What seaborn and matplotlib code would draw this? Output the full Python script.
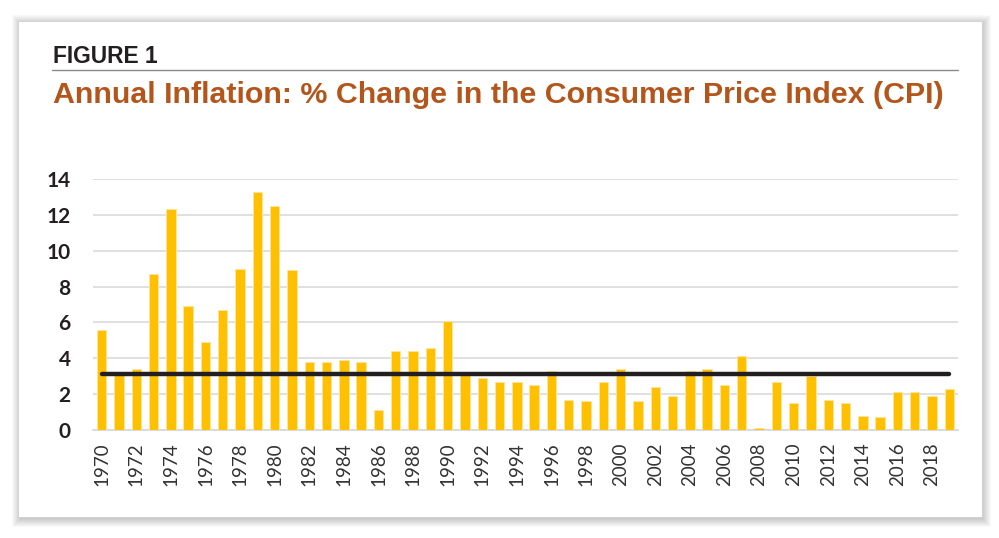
import matplotlib
matplotlib.use("Agg")
import matplotlib.pyplot as plt
import seaborn as sns
import pandas as pd
from matplotlib.patches import Rectangle

# -----------------------------
# data
# -----------------------------
years = list(range(1970, 2020))
cpi_change = [5.6, 3.2, 3.4, 8.7, 12.3, 6.9, 4.9, 6.7, 9.0, 13.3,
              12.5, 8.9, 3.8, 3.8, 3.9, 3.8, 1.1, 4.4, 4.4, 4.6,
              6.1, 3.1, 2.9, 2.7, 2.7, 2.5, 3.3, 1.7, 1.6, 2.7,
              3.4, 1.6, 2.4, 1.9, 3.3, 3.4, 2.5, 4.1, 0.1, 2.7,
              1.5, 3.0, 1.7, 1.5, 0.8, 0.7, 2.1, 2.1, 1.9, 2.3]
avg_line = 3.15
y_ticks = [0, 2, 4, 6, 8, 10, 12, 14]

df = pd.DataFrame({"Year": [str(y) for y in years], "CPI": cpi_change})

W, H = 999, 538

def fx(px):
    return px / W

def fy(py):
    return 1 - py / H

sns.set_theme(style="white")
plt.rcParams["font.family"] = ["Liberation Sans", "DejaVu Sans"]

fig = plt.figure(figsize=(W / 100, H / 100), dpi=100)
fig.patch.set_facecolor("white")

# -----------------------------
# card with soft shadow
# -----------------------------
card_l, card_t, card_r, card_b = 18, 21, 982, 517
for i in range(9, 0, -1):
    fig.patches.append(Rectangle(
        (fx(card_l - i + 3), fy(card_b + i + 1)),
        fx(card_r - card_l + 2 * i - 3), (card_b - card_t + 2 * i - 2) / H,
        transform=fig.transFigure, facecolor="black", edgecolor="none",
        alpha=0.022, zorder=0))
fig.patches.append(Rectangle(
    (fx(card_l), fy(card_b)), fx(card_r - card_l), (card_b - card_t) / H,
    transform=fig.transFigure, facecolor="white", edgecolor="#cfcfcf",
    linewidth=0.6, zorder=1))

# header texts
fig.text(fx(53), fy(63), "FIGURE 1", fontsize=16.4, fontweight="bold",
         color="#231f20", va="baseline", ha="left", zorder=3)
fig.add_artist(plt.Line2D([fx(52), fx(958)], [fy(69.5), fy(69.5)],
                          transform=fig.transFigure, color="#8a8a8a",
                          linewidth=1.0, zorder=3))
fig.text(fx(53), fy(103), "Annual Inflation: % Change in the Consumer Price Index (CPI)",
         fontsize=21.9, fontweight="bold", color="#B4561C",
         va="baseline", ha="left", zorder=3)

# -----------------------------
# bar chart
# -----------------------------
ax = fig.add_axes([fx(93), fy(430), fx(958 - 93), (430 - 179) / H])
ax.set_facecolor("none")
ax.set_zorder(2)

sns.barplot(data=df, x="Year", y="CPI", color="#FFC000", saturation=1,
            width=0.54, edgecolor="#FFE49A", linewidth=0.7, ax=ax, zorder=3)

ax.plot([0, len(years) - 1], [avg_line, avg_line], color="#231f20",
        linewidth=3.2, solid_capstyle="round", zorder=4)

ax.set_ylim(0, 14)
ax.set_xlim(-0.5, len(years) - 0.5)
ax.set_yticks(y_ticks)
ax.set_yticklabels([str(t) for t in y_ticks], fontsize=15, fontweight="bold",
                   color="#231f20", family=["Lato", "DejaVu Sans"])
ax.set_xticks(range(0, len(years), 2))
ax.set_xticklabels([str(y) for y in years[::2]], rotation=90, fontsize=13.5,
                   color="#333333", family=["Lato", "DejaVu Sans"])
ax.tick_params(axis="y", length=0, pad=16)
ax.tick_params(axis="x", length=0, pad=9)

ax.yaxis.grid(True, color="#dadada", linewidth=1.2)
ax.set_axisbelow(True)
for side in ["top", "right", "left"]:
    ax.spines[side].set_visible(False)
ax.spines["bottom"].set_color("#d6d6d6")
ax.spines["bottom"].set_linewidth(1.2)
ax.set_xlabel("")
ax.set_ylabel("")

fig.savefig("out.png", dpi=100)
plt.close(fig)
